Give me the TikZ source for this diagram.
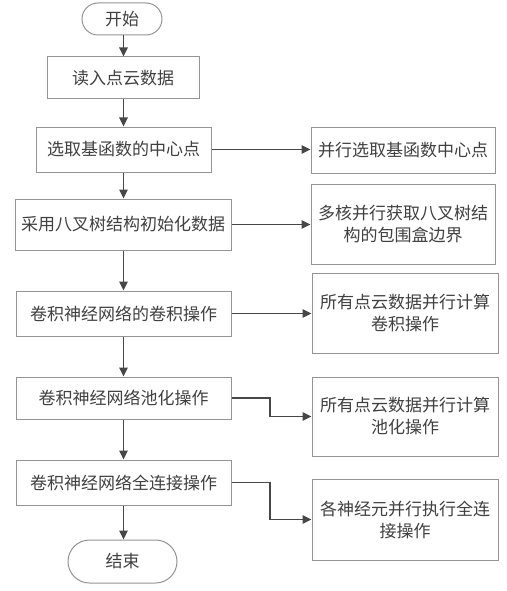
\documentclass[tikz,border=0pt]{standalone}
\usepackage{fontspec}
\setmainfont{Noto Sans CJK SC}
\usetikzlibrary{arrows.meta,shapes.misc}
\begin{document}
\begin{tikzpicture}[x=1pt,y=-1pt,
  txt/.style={text=black!75,font=\fontsize{17}{22}\selectfont},
  box/.style={txt,draw=black!42,line width=1pt,rectangle,inner sep=0pt,align=center},
  term/.style={txt,draw=black!42,line width=1pt,rounded rectangle,inner sep=0pt},
  arr/.style={draw=black!72,line width=1.3pt,-{Triangle[length=9pt,width=8.5pt]}}]
\useasboundingbox[fill=white] (0,0) rectangle (506,591);
% left column
\node[term,minimum width=80pt,minimum height=32pt] (s) at (122,19) {开始};
\node[box,minimum width=152pt,minimum height=42pt] (b1) at (123,78) {读入点云数据};
\node[box,minimum width=175pt,minimum height=45pt] (b2) at (123.5,149.5) {选取基函数的中心点};
\node[box,minimum width=216pt,minimum height=51pt] (b3) at (123,224.5) {采用八叉树结构初始化数据};
\node[box,minimum width=215pt,minimum height=45pt] (b4) at (123.5,313.5) {卷积神经网络的卷积操作};
\node[box,minimum width=215pt,minimum height=42pt] (b5) at (123.5,398) {卷积神经网络池化操作};
\node[box,minimum width=215pt,minimum height=45pt] (b6) at (123.5,482.5) {卷积神经网络全连接操作};
\node[term,minimum width=109pt,minimum height=43pt] (e) at (122.5,561.5) {结束};
% right column
\node[box,minimum width=184pt,minimum height=46pt] (r1) at (403,150) {并行选取基函数中心点};
\node[box,minimum width=184pt,minimum height=80pt] (r2) at (403,224) {多核并行获取八叉树结\\构的包围盒边界};
\node[box,minimum width=186pt,minimum height=80pt] (r3) at (405,313) {所有点云数据并行计算\\卷积操作};
\node[box,minimum width=186pt,minimum height=79pt] (r4) at (405,416.5) {所有点云数据并行计算\\池化操作};
\node[box,minimum width=186pt,minimum height=81pt] (r5) at (405,519.5) {各神经元并行执行全连\\接操作};
\coordinate (mid) at (270,0);
% vertical arrows
\draw[arr] (s.south -| b2.north) -- (b1.north -| b2.north);
\draw[arr] (b1.south -| b2.north) -- (b2.north);
\draw[arr] (b2.south) -- (b3.north -| b2.south);
\draw[arr] (b3.south -| b2.south) -- (b4.north -| b2.south);
\draw[arr] (b4.south -| b2.south) -- (b5.north -| b2.south);
\draw[arr] (b5.south -| b2.south) -- (b6.north -| b2.south);
\draw[arr] (b6.south -| b2.south) -- (e.north -| b2.south);
% horizontal arrows
\draw[arr] (b2.east) -- (b2.east -| r1.west);
\draw[arr] (b3.east) -- (b3.east -| r2.west);
\draw[arr] (b4.east) -- (b4.east -| r3.west);
\draw[arr] (b5.east) -- (b5.east -| mid) |- (r4.west);
\draw[arr] (b6.east) -- (b6.east -| mid) |- (r5.west);
\end{tikzpicture}
\end{document}
